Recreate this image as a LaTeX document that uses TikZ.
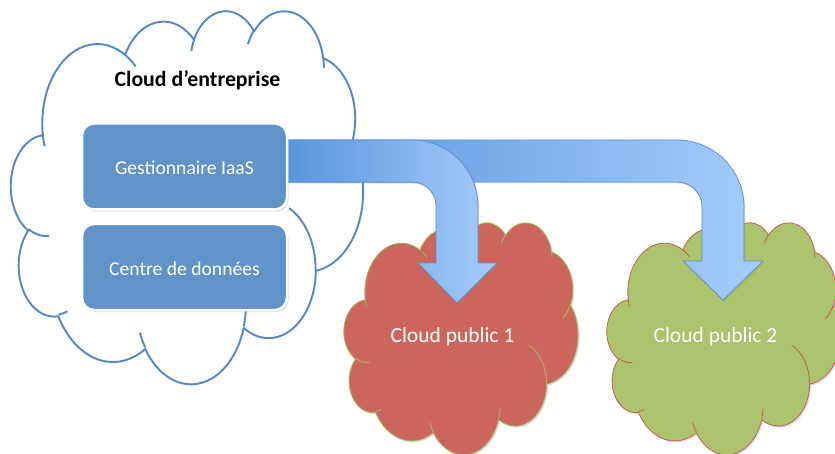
\documentclass[tikz,border=0pt]{standalone}
\usepackage{fontspec}
\setmainfont{Carlito}
\usetikzlibrary{shadows}

\definecolor{cloudline}{RGB}{82,135,198}
\definecolor{boxblue}{RGB}{96,147,200}
\definecolor{pubred}{RGB}{204,102,92}
\definecolor{pubredline}{RGB}{160,190,95}
\definecolor{pubgreen}{RGB}{170,195,108}
\definecolor{pubgreenline}{RGB}{205,90,85}
\definecolor{arrowdark}{RGB}{88,148,218}
\definecolor{arrowlight}{RGB}{165,204,252}
\definecolor{arrowline}{RGB}{92,140,205}

% DrawingML arcTo: wR hR stAng swAng (angles in degrees, visual)
\newcommand\ooA[4]{arc[start angle={atan2((#1)*sin(#3),(#2)*cos(#3))},delta angle={mod(atan2((#1)*sin((#3)+(#4)),(#2)*cos((#3)+(#4)))-atan2((#1)*sin(#3),(#2)*cos(#3))+720,360)},x radius=#1,y radius=#2]}

% cloud: L T W H mainstyle innerstyle
\newcommand\oocloud[6]{%
  \pgfmathsetmacro\ooxs{#3/432}\pgfmathsetmacro\ooys{#4/432}%
  \begin{scope}[shift={(#1,#2)},x=\ooxs pt,y=-\ooys pt]
    \path[#5] (39.00,143.70)
      \ooA{67.53}{91.90}{-190.487483}{123.780533}
      \ooA{53.33}{72.67}{-144.102383}{89.945233}
      \ooA{43.65}{59.45}{-145.807917}{99.723017}
      \ooA{48.57}{65.95}{-130.986067}{117.241733}
      \ooA{53.33}{72.73}{-78.708883}{109.026917}
      \ooA{67.75}{92.20}{-46.26725}{130.269}
      \ooA{57.85}{78.67}{0.625017}{114.033333}
      \ooA{67.52}{92.15}{22.4516}{115.17255}
      \ooA{77.20}{105.43}{66.242633}{75.711017}
      \ooA{43.60}{59.18}{-274.942083}{146.735567}
      \ooA{43.45}{59.45}{-246.8285}{152.51885}
      -- cycle;
    \path[#6]
      (46.93,261.77) \ooA{43.45}{59.45}{86.742}{26.4295}
      (69.28,348.99) \ooA{43.60}{59.18}{73.610467}{11.447467}
      (164.78,390.90) \ooA{67.52}{92.15}{137.62415}{14.0811}
      (288.27,347.51) \ooA{67.52}{92.15}{6.453267}{15.99835}
      (341.29,229.54) \ooA{57.85}{78.67}{-70.29235}{70.917367}
      (417.98,153.54) \ooA{53.33}{72.73}{30.318033}{27.7515}
      (383.24,54.26) \ooA{48.57}{65.95}{-13.744333}{14.8589}
      (290.78,39.52) \ooA{48.57}{65.95}{-149.18145}{18.195367}
      (221.41,47.20) \ooA{43.65}{59.45}{-163.494267}{17.68635}
      (140.00,51.92) \ooA{67.53}{91.90}{-66.70695}{12.31935}
      (41.27,157.89) \ooA{67.53}{91.90}{157.65435}{11.858167};
  \end{scope}}

\tikzset{
  entcloud/.style={fill=white,draw=cloudline,line width=1.9pt},
  entinner/.style={draw=cloudline,line width=1.9pt},
  redcloud/.style={fill=pubred,draw=pubredline,line width=0.8pt,
    drop shadow={shadow xshift=1.5pt,shadow yshift=-1.5pt,opacity=0.25}},
  redinner/.style={draw=pubredline,line width=0.8pt},
  greencloud/.style={fill=pubgreen,draw=pubgreenline,line width=0.8pt,
    drop shadow={shadow xshift=1.5pt,shadow yshift=-1.5pt,opacity=0.25}},
  greeninner/.style={draw=pubgreenline,line width=0.8pt},
  bentarrow/.style={draw=arrowline,line width=0.7pt,left color=arrowdark,right color=arrowlight,
    drop shadow={shadow xshift=1.2pt,shadow yshift=-1.5pt,opacity=0.25}},
  boxnode/.style={rectangle,rounded corners=12pt,minimum width=205pt,minimum height=86pt,
    fill=boxblue,draw=white,line width=2.5pt,text=white,
    font=\fontsize{19.6}{23}\selectfont,text height=17pt,text depth=0pt,
    drop shadow={shadow xshift=1.5pt,shadow yshift=-2pt,opacity=0.3}},
  publabel/.style={anchor=base,text=white,font=\fontsize{21.5}{26}\selectfont},
  titlelabel/.style={anchor=base,text=black,font=\bfseries\fontsize{21.8}{26}\selectfont}
}

\begin{document}
\begin{tikzpicture}[x=1pt,y=-1pt,line join=round]
\clip (0,0) rectangle (835,454);

% enterprise cloud
\oocloud{11}{10}{352}{373}{entcloud}{entinner}
% public clouds
\oocloud{344}{222}{234}{232}{redcloud}{redinner}
\oocloud{607}{222}{234}{232}{greencloud}{greeninner}

% bent arrows (arrow 2 first, arrow 1 on top)
\path[bentarrow] (285,140) -- (677,140) arc[start angle=-90,end angle=0,radius=67]
  -- (744,261) -- (763,261) -- (723,300) -- (683,261) -- (702,261) -- (702,207)
  arc[start angle=0,end angle=-90,radius=25] -- (285,182) -- cycle;
\path[bentarrow] (285,140) -- (412,140) arc[start angle=-90,end angle=0,radius=66]
  -- (478,263) -- (497,263) -- (457,303) -- (418,263) -- (436,263) -- (436,206)
  arc[start angle=0,end angle=-90,radius=24] -- (285,182) -- cycle;

% boxes
\node[boxnode] (gest) at (184.5,166.5) {Gestionnaire IaaS};
\node[boxnode] (centre) at (184.5,267) {Centre de données};

% labels
\node[titlelabel] (title) at (197.5,87) {Cloud d’entreprise};
\node[publabel] (pub1) at (452.5,342) {Cloud public 1};
\node[publabel] (pub2) at (715.5,342) {Cloud public 2};
\end{tikzpicture}
\end{document}
